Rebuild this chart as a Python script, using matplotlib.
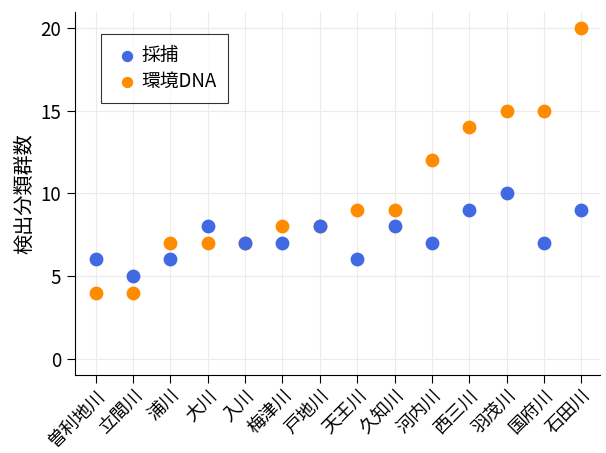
import matplotlib.pyplot as plt

plt.rcParams['font.family'] = ['Noto Sans CJK JP', 'DejaVu Sans']

# river names on x axis
rivers = ['曽利地川', '立間川', '浦川', '大川', '入川', '梅津川', '戸地川',
          '天王川', '久知川', '河内川', '西三川', '羽茂川', '国府川', '石田川']
# number of taxa detected
capture = [6, 5, 6, 8, 7, 7, 8, 6, 8, 7, 9, 10, 7, 9]
edna = [4, 4, 7, 7, 7, 8, 8, 9, 9, 12, 14, 15, 15, 20]

fig = plt.figure(figsize=(6.06, 4.53), dpi=100)
ax = fig.add_axes([0.124, 0.172, 0.866, 0.802])

x = list(range(len(rivers)))
ax.scatter(x, edna, s=80, color='#FF8C00', label='環境DNA', zorder=3)
ax.scatter(x, capture, s=80, color='#4169E1', label='採捕', zorder=4)

ax.set_xlim(-0.55, 13.5)
ax.set_ylim(-1, 21)
ax.set_yticks([0, 5, 10, 15, 20])
ax.set_xticks(x)
ax.set_xticklabels(rivers, rotation=45, ha='right', rotation_mode='anchor', fontsize=13)
ax.tick_params(axis='y', labelsize=13.5, length=6, pad=4)
ax.tick_params(axis='x', length=6, pad=2)
ax.set_ylabel('検出分類群数', fontsize=14.5, labelpad=4)
ax.grid(True, color='#ebebeb', linewidth=0.8)
ax.set_axisbelow(True)
for side in ['top', 'right']:
    ax.spines[side].set_visible(False)

handles, labels = ax.get_legend_handles_labels()
leg = ax.legend(handles[::-1], labels[::-1], loc='upper left',
                bbox_to_anchor=(0.032, 0.965), fontsize=13.5, fancybox=False,
                edgecolor='black', handletextpad=0.05, borderpad=0.6,
                handlelength=1.5, labelspacing=0.25, markerscale=0.8)
leg.get_frame().set_linewidth(0.8)

fig.savefig('out.png', dpi=100)
